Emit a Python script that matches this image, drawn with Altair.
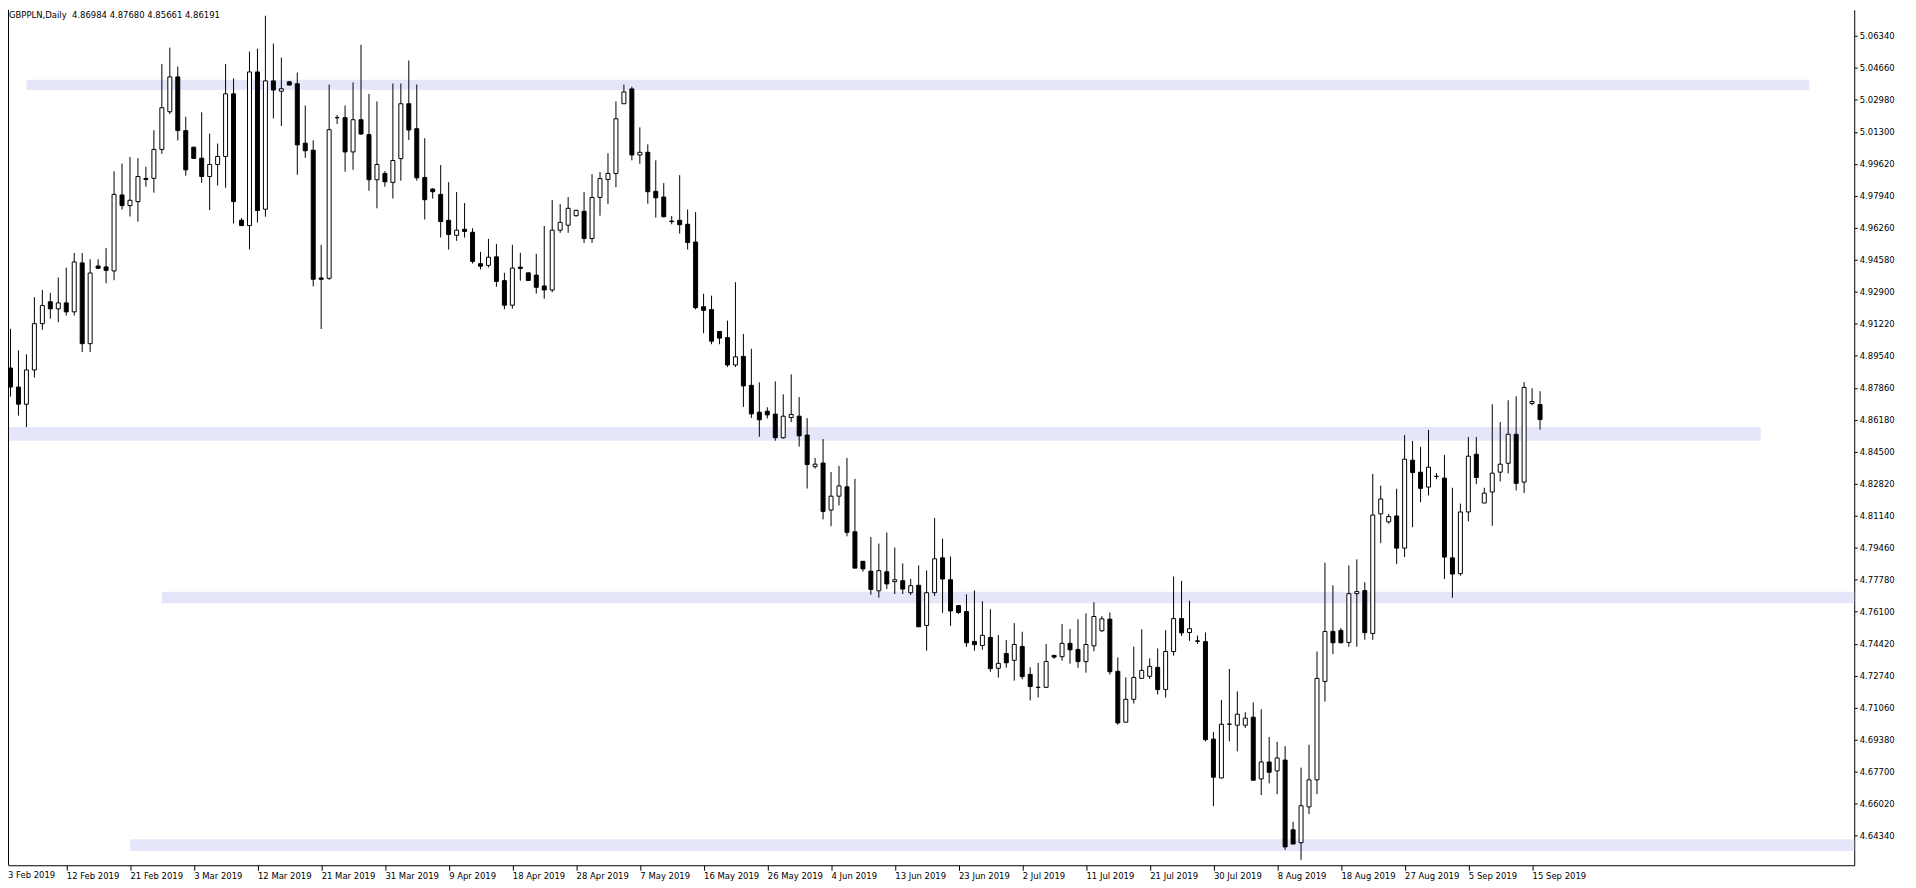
import altair as alt
import pandas as pd

# ---------------- data ----------------
opens = [4.8860, 4.8890, 4.8790, 4.8700, 4.8880, 4.9123, 4.9238, 4.9201, 4.9232, 4.9185,
         4.9442, 4.9018, 4.9426, 4.9421, 4.9400, 4.9799, 4.9743, 4.9764, 4.9886, 4.9886,
         5.0038, 5.0236, 5.0419, 5.0137, 5.0050, 4.9992, 4.9896, 4.9959, 5.0001, 5.0330,
         4.9666, 4.9638, 5.0445, 4.9724, 5.0398, 5.0344, 5.0393, 5.0383, 5.0071, 5.0034,
         4.9363, 4.9361, 5.0205, 5.0205, 5.0025, 5.0194, 5.0116, 4.9879, 4.9912, 4.9865,
         4.9990, 5.0278, 5.0147, 4.9891, 4.9830, 4.9802, 4.9666, 4.9587, 4.9619, 4.9603,
         4.9438, 4.9429, 4.9474, 4.9349, 4.9220, 4.9420, 4.9390, 4.9378, 4.9321, 4.9300,
         4.9614, 4.9640, 4.9690, 4.9713, 4.9570, 4.9786, 4.9880, 4.9912, 5.0278, 5.0356,
         5.0009, 5.0023, 4.9818, 4.9788, 4.9662, 4.9666, 4.9645, 4.9552, 4.9212, 4.9197,
         4.9082, 4.9050, 4.8906, 4.8951, 4.8799, 4.8658, 4.8663, 4.8648, 4.8524, 4.8630,
         4.8637, 4.8538, 4.8372, 4.8391, 4.8144, 4.8217, 4.8266, 4.8030, 4.7875, 4.7823,
         4.7720, 4.7820, 4.7768, 4.7773, 4.7710, 4.7749, 4.7538, 4.7710, 4.7893, 4.7778,
         4.7642, 4.7611, 4.7454, 4.7433, 4.7475, 4.7313, 4.7391, 4.7355, 4.7428, 4.7281,
         4.7213, 4.7213, 4.7381, 4.7374, 4.7444, 4.7412, 4.7348, 4.7431, 4.7510, 4.7571,
         4.7297, 4.7030, 4.7150, 4.7260, 4.7271, 4.7318, 4.7202, 4.7401, 4.7574, 4.7501,
         4.7457, 4.7453, 4.6941, 4.6737, 4.7019, 4.7014, 4.7014, 4.7056, 4.6732, 4.6821,
         4.6774, 4.6831, 4.6465, 4.6397, 4.6585, 4.6727, 4.7244, 4.7507, 4.7512, 4.7449,
         4.7705, 4.7721, 4.7496, 4.8124, 4.8082, 4.8113, 4.7944, 4.8406, 4.8343, 4.8265,
         4.8321, 4.8312, 4.7893, 4.7810, 4.8134, 4.8437, 4.8181, 4.8239, 4.8343, 4.8390,
         4.8542, 4.8291, 4.8704, 4.86984]
highs = [4.8930, 4.9096, 4.8983, 4.8962, 4.9262, 4.9300, 4.9285, 4.9365, 4.9417, 4.9494,
         4.9494, 4.9462, 4.9462, 4.9520, 4.9923, 4.9964, 4.9998, 4.9992, 4.9947, 5.0139,
         5.0487, 5.0573, 5.0473, 5.0210, 5.0050, 5.0233, 5.0121, 5.0069, 5.0487, 5.0411,
         4.9678, 5.0552, 5.0567, 5.0740, 5.0594, 5.0520, 5.0398, 5.0442, 5.0269, 5.0086,
         4.9537, 5.0379, 5.0219, 5.0269, 5.0390, 5.0588, 5.0330, 5.0290, 4.9924, 5.0384,
         5.0384, 5.0505, 5.0379, 5.0097, 4.9835, 4.9956, 4.9866, 4.9814, 4.9756, 4.9624,
         4.9500, 4.9568, 4.9542, 4.9390, 4.9537, 4.9495, 4.9390, 4.9490, 4.9636, 4.9772,
         4.9751, 4.9788, 4.9722, 4.9814, 4.9908, 4.9919, 5.0018, 5.0290, 5.0379, 5.0367,
         5.0154, 5.0065, 4.9981, 4.9861, 4.9688, 4.9903, 4.9723, 4.9709, 4.9280, 4.9270,
         4.9082, 4.9139, 4.9341, 4.9069, 4.8991, 4.8815, 4.8684, 4.8820, 4.8752, 4.8857,
         4.8737, 4.8627, 4.8418, 4.8517, 4.8344, 4.8376, 4.8418, 4.8308, 4.7875, 4.8002,
         4.7968, 4.8026, 4.7947, 4.7864, 4.7783, 4.7853, 4.7827, 4.8102, 4.7994, 4.7900,
         4.7642, 4.7701, 4.7722, 4.7665, 4.7623, 4.7487, 4.7461, 4.7550, 4.7505, 4.7318,
         4.7341, 4.7440, 4.7381, 4.7545, 4.7519, 4.7571, 4.7602, 4.7660, 4.7587, 4.7606,
         4.7370, 4.7265, 4.7427, 4.7518, 4.7365, 4.7417, 4.7513, 4.7795, 4.7772, 4.7668,
         4.7485, 4.7501, 4.6978, 4.7147, 4.7309, 4.7192, 4.7082, 4.7134, 4.7098, 4.6952,
         4.6927, 4.6904, 4.6507, 4.6791, 4.6911, 4.7401, 4.7867, 4.7749, 4.7524, 4.7853,
         4.7885, 4.7765, 4.8334, 4.8272, 4.8124, 4.8256, 4.8538, 4.8507, 4.8476, 4.8565,
         4.8338, 4.8434, 4.8261, 4.8178, 4.8528, 4.8528, 4.8261, 4.8700, 4.8606, 4.8721,
         4.8742, 4.8816, 4.8784, 4.87680]
lows = [4.8800, 4.8740, 4.8640, 4.8580, 4.8840, 4.9091, 4.9149, 4.9131, 4.9166, 4.9166,
        4.8974, 4.8974, 4.9410, 4.9335, 4.9351, 4.9722, 4.9686, 4.9659, 4.9842, 4.9811,
        5.0015, 5.0224, 5.0085, 4.9900, 4.9991, 4.9863, 4.9720, 4.9848, 4.9837, 4.9649,
        4.9638, 4.9513, 4.9654, 4.9685, 5.0201, 5.0161, 5.0376, 4.9905, 4.9994, 4.9319,
        4.9095, 4.9353, 5.0172, 4.9921, 4.9931, 5.0114, 4.9821, 4.9729, 4.9842, 4.9780,
        4.9874, 5.0088, 4.9874, 4.9670, 4.9780, 4.9576, 4.9512, 4.9558, 4.9575, 4.9439,
        4.9408, 4.9418, 4.9317, 4.9199, 4.9202, 4.9349, 4.9350, 4.9281, 4.9254, 4.9288,
        4.9600, 4.9600, 4.9685, 4.9547, 4.9547, 4.9690, 4.9751, 4.9840, 5.0278, 4.9981,
        4.9962, 4.9753, 4.9680, 4.9680, 4.9645, 4.9596, 4.9512, 4.9198, 4.9073, 4.9015,
        4.9015, 4.8895, 4.8895, 4.8686, 4.8628, 4.8529, 4.8625, 4.8508, 4.8519, 4.8606,
        4.8477, 4.8257, 4.8362, 4.8095, 4.8059, 4.8168, 4.8006, 4.7839, 4.7820, 4.7699,
        4.7684, 4.7729, 4.7703, 4.7703, 4.7698, 4.7531, 4.7405, 4.7693, 4.7604, 4.7536,
        4.7599, 4.7426, 4.7405, 4.7410, 4.7295, 4.7264, 4.7316, 4.7248, 4.7255, 4.7144,
        4.7159, 4.7210, 4.7363, 4.7353, 4.7337, 4.7316, 4.7290, 4.7402, 4.7505, 4.7280,
        4.7017, 4.7030, 4.7128, 4.7260, 4.7257, 4.7175, 4.7159, 4.7379, 4.7483, 4.7457,
        4.7441, 4.6929, 4.6589, 4.6734, 4.6929, 4.6877, 4.7000, 4.6725, 4.6647, 4.6709,
        4.6652, 4.6359, 4.6390, 4.6307, 4.6547, 4.6652, 4.7138, 4.7388, 4.7444, 4.7426,
        4.7426, 4.7463, 4.7463, 4.7970, 4.8073, 4.7860, 4.7897, 4.8054, 4.8185, 4.8221,
        4.8306, 4.7782, 4.7683, 4.7799, 4.8085, 4.8280, 4.8181, 4.8061, 4.8294, 4.8336,
        4.8247, 4.8233, 4.8694, 4.85661]
closes = [4.8890, 4.8790, 4.8700, 4.8880, 4.9123, 4.9218, 4.9201, 4.9232, 4.9185, 4.9447,
          4.9018, 4.9389, 4.9414, 4.9403, 4.9802, 4.9743, 4.9771, 4.9896, 4.9880, 5.0038,
          5.0257, 5.0419, 5.0137, 4.9931, 4.9991, 4.9896, 4.9959, 5.0001, 5.0330, 4.9764,
          4.9638, 5.0445, 4.9717, 5.0398, 5.0350, 5.0357, 5.0376, 5.0062, 5.0031, 4.9356,
          4.9356, 5.0142, 5.0205, 5.0025, 5.0194, 5.0119, 4.9879, 4.9959, 4.9868, 4.9980,
          5.0278, 5.0140, 4.9889, 4.9774, 4.9816, 4.9659, 4.9591, 4.9614, 4.9607, 4.9450,
          4.9425, 4.9472, 4.9345, 4.9220, 4.9415, 4.9413, 4.9350, 4.9314, 4.9300, 4.9614,
          4.9655, 4.9729, 4.9718, 4.9570, 4.9786, 4.9885, 4.9912, 5.0199, 5.0340, 5.0009,
          5.0023, 4.9816, 4.9784, 4.9685, 4.9659, 4.9643, 4.9549, 4.9207, 4.9193, 4.9031,
          4.9047, 4.8906, 4.8949, 4.8796, 4.8649, 4.8618, 4.8644, 4.8524, 4.8637, 4.8646,
          4.8534, 4.8383, 4.8385, 4.8137, 4.8217, 4.8271, 4.8027, 4.7839, 4.7835, 4.7727,
          4.7826, 4.7756, 4.7778, 4.7729, 4.7747, 4.7531, 4.7710, 4.7888, 4.7782, 4.7614,
          4.7606, 4.7447, 4.7437, 4.7486, 4.7311, 4.7339, 4.7342, 4.7438, 4.7269, 4.7217,
          4.7213, 4.7349, 4.7372, 4.7444, 4.7410, 4.7348, 4.7438, 4.7585, 4.7573, 4.7295,
          4.7026, 4.7150, 4.7265, 4.7302, 4.7323, 4.7201, 4.7401, 4.7574, 4.7499, 4.7521,
          4.7455, 4.6938, 4.6741, 4.7019, 4.7020, 4.7072, 4.7051, 4.6725, 4.6821, 4.6767,
          4.6842, 4.6375, 4.6390, 4.6591, 4.6727, 4.7260, 4.7506, 4.7447, 4.7447, 4.7705,
          4.7716, 4.7500, 4.8118, 4.8202, 4.8110, 4.7944, 4.8411, 4.8341, 4.8258, 4.8369,
          4.8321, 4.7897, 4.7808, 4.8134, 4.8427, 4.8315, 4.8233, 4.8338, 4.8385, 4.8542,
          4.8284, 4.8788, 4.8714, 4.86191]

date_labels = ["3 Feb 2019", "12 Feb 2019", "21 Feb 2019", "3 Mar 2019", "12 Mar 2019",
               "21 Mar 2019", "31 Mar 2019", "9 Apr 2019", "18 Apr 2019", "28 Apr 2019",
               "7 May 2019", "16 May 2019", "26 May 2019", "4 Jun 2019", "13 Jun 2019",
               "23 Jun 2019", "2 Jul 2019", "11 Jul 2019", "21 Jul 2019", "30 Jul 2019",
               "8 Aug 2019", "18 Aug 2019", "27 Aug 2019", "5 Sep 2019", "15 Sep 2019"]
label_step = 8

price_ticks = [4.64340, 4.66020, 4.67700, 4.69380, 4.71060, 4.72740, 4.74420, 4.76100,
               4.77780, 4.79460, 4.81140, 4.82820, 4.84500, 4.86180, 4.87860, 4.89540,
               4.91220, 4.92900, 4.94580, 4.96260, 4.97940, 4.99620, 5.01300, 5.02980,
               5.04660, 5.06340]

band_top = [5.0404, 4.8580, 4.7715, 4.6415]
band_bottom = [5.0350, 4.8508, 4.7655, 4.6354]
band_start = [3.0, 0.0, 20.0, 16.0]
band_end = [226.8, 220.7, 240.0, 240.0]

title_text = "GBPPLN,Daily\u00a0 4.86984 4.87680 4.85661 4.86191"

# ---------------- tables ----------------
n = len(opens)
df = pd.DataFrame({
    "bar": list(range(n)),
    "open": opens, "high": highs, "low": lows, "close": closes,
})
df["dir"] = ["up" if c >= o else "down" for o, c in zip(opens, closes)]

bands = pd.DataFrame({"start": band_start, "end": band_end,
                      "top": band_top, "bottom": band_bottom})

W, H = 1854, 859
FONT = "DejaVu Sans"

xscale = alt.Scale(domain=[0.6875, 232.4375], nice=False, zero=False, padding=0)
yscale = alt.Scale(domain=[4.62786, 5.07712], nice=False, zero=False, padding=0)

label_values = [i * label_step for i in range(1, len(date_labels))]
label_expr = "[" + ",".join("'%s'" % s for s in date_labels) + "][round(datum.value/%d)]" % label_step

x_axis = alt.Axis(values=label_values, labelExpr=label_expr, title=None, grid=False,
                  tickSize=5, labelPadding=1, labelAlign="left",
                  labelOverlap=False, labelFlush=False, labelFont=FONT, labelFontSize=8.5,
                  labelColor="black", domainColor="black", tickColor="black")
y_axis = alt.Axis(orient="right", values=price_ticks, format=".5f", title=None, grid=False,
                  tickSize=3, labelPadding=2, labelOverlap=False, labelFlush=False,
                  labelFont=FONT, labelFontSize=8.5, labelColor="black",
                  domainColor="black", tickColor="black")

band_layer = alt.Chart(bands).mark_rect(color="#E6E6FA", clip=True).encode(
    x=alt.X("start:Q", scale=xscale, axis=x_axis),
    x2="end:Q",
    y=alt.Y("top:Q", scale=yscale, axis=y_axis),
    y2="bottom:Q",
)

wicks = alt.Chart(df).mark_rule(color="black", strokeWidth=1, clip=True).encode(
    x=alt.X("bar:Q", scale=xscale, axis=x_axis),
    y=alt.Y("low:Q", scale=yscale, axis=y_axis),
    y2="high:Q",
)

bodies = alt.Chart(df).mark_bar(size=4, stroke="black", strokeWidth=1, clip=True).encode(
    x=alt.X("bar:Q", scale=xscale, axis=x_axis),
    y=alt.Y("open:Q", scale=yscale, axis=y_axis),
    y2="close:Q",
    fill=alt.Fill("dir:N", scale=alt.Scale(domain=["up", "down"], range=["white", "black"]),
                  legend=None),
)

left_frame = alt.Chart(pd.DataFrame({"a": [0]})).mark_rule(color="black").encode(
    x=alt.value(0.5), y=alt.value(0), y2=alt.value(H)
)

title_layer = alt.Chart(pd.DataFrame({"t": [title_text]})).mark_text(
    align="left", baseline="top", font=FONT, fontSize=8.5, color="black"
).encode(text="t:N", x=alt.value(1), y=alt.value(1))

first_label = alt.Chart(pd.DataFrame({"t": [date_labels[0]]})).mark_text(
    align="left", baseline="top", font=FONT, fontSize=8.5, color="black"
).encode(text="t:N", x=alt.value(0), y=alt.value(H + 6))

chart = alt.layer(band_layer, wicks, bodies, left_frame, title_layer, first_label).properties(
    width=W, height=H,
    autosize=alt.AutoSizeParams(type="none"),
    padding={"left": 0, "top": 0, "right": 54, "bottom": 21},
    background="white",
).configure_view(stroke=None)

chart.save("out.html", embed_options={"renderer": "svg", "actions": False})
